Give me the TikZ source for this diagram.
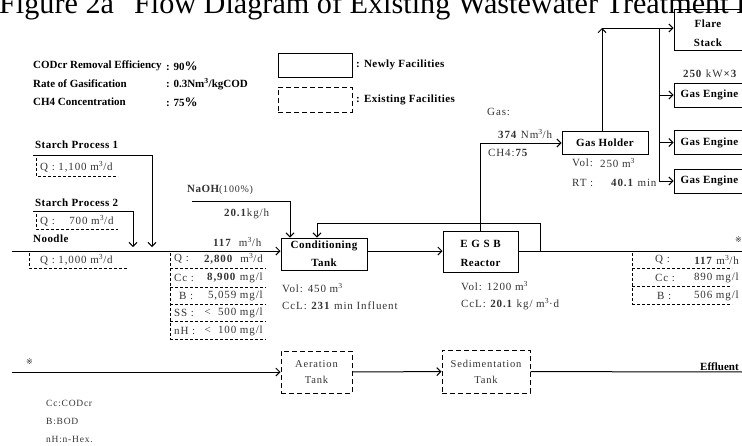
\documentclass[tikz,border=0pt]{standalone}
\usepackage{fontspec}
\setmainfont{Liberation Serif}
\newfontfamily\refmarkfont{DejaVu Sans}
\newfontfamily\widefont[LetterSpace=8]{Liberation Serif}
\newfontfamily\heavyfont[LetterSpace=4]{Liberation Serif}
\usetikzlibrary{arrows.meta}
\begin{document}
\begin{tikzpicture}[x=1pt,y=-1pt,
  lbl/.style={font=\fontsize{11}{12}\selectfont\bfseries, anchor=west, inner sep=0pt},
  hlbl/.style={font=\heavyfont\fontsize{11}{12}\selectfont\bfseries, anchor=west, inner sep=0pt},
  txt/.style={font=\widefont\fontsize{11}{12}\selectfont, anchor=west, inner sep=0pt, text=black!80},
  newbox/.style={draw, line width=1pt, inner sep=0pt, align=center, font=\heavyfont\fontsize{11}{18}\selectfont\bfseries},
  boxtext/.style={inner sep=0pt, align=center, font=\heavyfont\fontsize{11}{19}\selectfont\bfseries},
  oldbox/.style={draw, line width=1pt, dashed, dash pattern=on 5pt off 3pt, inner sep=0pt, align=center, font=\widefont\fontsize{10.5}{16}\selectfont, text=black!80},
  flow/.style={line width=1pt, -{Straight Barb[length=4pt,width=8pt,line width=1pt]}},
  ln/.style={line width=1pt},
  dsh/.style={line width=0.7pt, dash pattern=on 3pt off 2pt},
]
\clip (0,0) rectangle (742,445);
% title
\node[anchor=base west, inner sep=0pt, font=\fontsize{30.2}{30}\selectfont] (title) at (-1,13) {Figure 2a\hspace{20pt}Flow Diagram of Existing Wastewater Treatment Plant};
% legend
\node[lbl] (l1) at (33,66) {CODcr Removal Efficiency};
\node[lbl] (l1v) at (166,66) {: 90{\fontsize{13}{13}\selectfont\%}};
\node[lbl] (l2) at (33,84) {Rate of Gasification};
\node[lbl] (l2v) at (166,84) {: 0.3Nm\textsuperscript{3}/kgCOD};
\node[lbl] (l3) at (33,102) {CH4 Concentration};
\node[lbl] (l3v) at (166,102) {: 75{\fontsize{13}{13}\selectfont\%}};
\node[newbox, minimum width=74pt, minimum height=24pt] (legnew) at (315,65) {};
\node[hlbl] (legnewt) at (356,65) {: Newly Facilities};
\node[oldbox, minimum width=74pt, minimum height=25pt] (legold) at (315,99.5) {};
\node[hlbl] (legoldt) at (356,100) {: Existing Facilities};
% process boxes
\node[newbox, minimum width=86pt, minimum height=32pt] (cond) at (324,254) {Conditioning\\Tank};
\node[newbox, minimum width=75pt, minimum height=41pt] (egsb) at (480.5,251.5) {};
\node[boxtext] (egsbt) at (480.5,253) {E\,\,G\,\,S\,\,B\\Reactor};
\node[newbox, minimum width=86pt, minimum height=23pt] (gh) at (605,143) {Gas Holder};
\node[newbox, minimum width=71pt, minimum height=41pt] (flare) at (709.5,29.5) {};
\node[boxtext] (flaret) at (708,33) {Flare\\Stack};
\node[newbox, minimum width=71pt, minimum height=24pt] (ge1) at (709.5,95) {Gas Engine};
\node[newbox, minimum width=71pt, minimum height=24pt] (ge2) at (709.5,142.5) {Gas Engine};
\node[newbox, minimum width=71pt, minimum height=24pt] (ge3) at (709.5,181) {Gas Engine};
\node[oldbox, minimum width=71pt, minimum height=42pt] (aer) at (316.5,372) {Aeration\\Tank};
\node[oldbox, minimum width=88pt, minimum height=43pt] (sed) at (486,371.5) {Sedimentation\\Tank};
% coordinates
\coordinate (in0) at (12,251);
\coordinate (s1) at (33,155);
\coordinate (s1e) at (152,247);
\coordinate (s2) at (33,211);
\coordinate (s2e) at (133,247);
\coordinate (naoh) at (192,201);
\coordinate (rc) at (540,251);
\coordinate (out1) at (745,251);
\coordinate (top) at (602,28);
\coordinate (dtop) at (659,28);
\coordinate (b0) at (12,372);
\coordinate (out2) at (745,372);
% connectors
\draw[flow] (in0) -- (in0 -| cond.west);
\draw[flow] (s1) -| (s1e);
\draw[flow] (s2) -| (s2e);
\draw[flow] (naoh) -| ([xshift=-34pt]cond.north);
\draw[flow] (rc) -- (540,223) -| ([xshift=-7pt]cond.north);
\draw[flow] (cond.east |- in0) -- (egsb.west |- in0);
\draw[ln] (egsb.east |- in0) -- (out1);
\draw[flow] (egsb.north) |- (gh.west);
\draw[flow] ([xshift=-3pt]gh.north) -- (top);
\draw[flow] (top) -- (top -| flare.west);
\draw[flow] (dtop) |- (ge3.west);
\draw[flow] (ge1.west -| dtop) -- (ge1.west);
\draw[flow] (ge2.west -| dtop) -- (ge2.west);
\draw[flow] (b0) -- (aer);
\draw[flow] (aer) -- (sed);
\draw[ln] (sed) -- (out2);
% stream labels
\node[hlbl] (sp1) at (35,145) {Starch Process 1};
\node[hlbl] (sp2) at (35,203) {Starch Process 2};
\node[hlbl] (nod) at (33,239) {Noodle};
\draw[dsh] (36,158) -- (36,176) -- (118,176);
\node[txt] (q1) at (40,167) {Q : 1,100 m\textsuperscript{3}/d};
\draw[dsh] (36,214) -- (36,229) -- (118,229);
\node[txt] (q2) at (40,221) {Q :\ \ \ \ 700 m\textsuperscript{3}/d};
\draw[dsh] (29,253) -- (29,268) -- (127,268);
\node[txt] (q3) at (40,260) {Q : 1,000 m\textsuperscript{3}/d};
\node[txt] (naoht) at (187,190) {{\heavyfont\bfseries NaOH}{\fontsize{10}{12}\selectfont(100\%)}};
\node[txt] (naohq) at (224,214) {\textbf{20.1}kg/h};
\node[txt] (f117) at (213,242) {\textbf{117}\ \ m\textsuperscript{3}/h};
% influent table
\draw[dsh] (170,253) -- (170,339);
\foreach \yy in {268,287,304,321,339} \draw[dsh] (170,\yy) -- (266,\yy);
\node[txt] (tq) at (174,259) {Q :};
\node[txt, anchor=east] (tqv) at (263,259) {\textbf{2,800}\ \ m\textsuperscript{3}/d};
\node[txt] (tc) at (174,278) {Cc :};
\node[txt, anchor=east] (tcv) at (263,278) {\textbf{8,900} mg/l};
\node[txt] (tb) at (179,296) {B :};
\node[txt, anchor=east] (tbv) at (263,296) {5,059 mg/l};
\node[txt] (ts) at (174,313) {SS :};
\node[txt, anchor=east] (tsv) at (263,313) {<\ \ 500 mg/l};
\node[txt] (tn) at (174,331) {nH :};
\node[txt, anchor=east] (tnv) at (263,331) {<\ \ 100 mg/l};
% tank data
\node[txt] (cv) at (282,288) {Vol: 450 m\textsuperscript{3}};
\node[txt] (cc) at (282,306) {CcL: \textbf{231} min Influent};
\node[txt] (ev) at (461,286) {Vol: 1200 m\textsuperscript{3}};
\node[txt] (ec) at (461,304) {CcL: \textbf{20.1} kg/ m\textsuperscript{3}·d};
\node[txt] (gas) at (487,112) {Gas:};
\node[txt] (gasq) at (498,134) {\textbf{374} Nm\textsuperscript{3}/h};
\node[txt] (gasc) at (488,153) {CH4:\textbf{75}};
\node[txt] (ghv) at (572,163) {Vol:};
\node[txt] (ghv2) at (600,163) {250 m\textsuperscript{3}};
\node[txt] (ghr) at (572,183) {RT :};
\node[txt] (ghr2) at (611,183) {\textbf{40.1} min};
\node[txt] (kw) at (683,74) {\textbf{250} kW\textbf{×3}};
% effluent table
\node[txt, font=\refmarkfont\fontsize{8}{10}\selectfont] (rm1) at (735,240) {※};
\draw[dsh] (632,253) -- (632,305);
\foreach \yy in {268,286,304} \draw[dsh] (632,\yy) -- (732,\yy);
\node[txt] (eq) at (655,260) {Q :};
\node[txt, anchor=east] (eqv) at (739,260) {\textbf{117} m\textsuperscript{3}/h};
\node[txt] (ecc) at (655,278) {Cc :};
\node[txt, anchor=east] (eccv) at (739,278) {890 mg/l};
\node[txt] (eb) at (657,296) {B :};
\node[txt, anchor=east] (ebv) at (739,296) {506 mg/l};
% bottom
\node[txt, font=\refmarkfont\fontsize{8}{10}\selectfont] (rm2) at (26,362) {※};
\node[lbl] (eff) at (700,367) {Effluent};
\node[txt, font=\widefont\fontsize{9.5}{11}\selectfont] (n1) at (46,403) {Cc:CODcr};
\node[txt, font=\widefont\fontsize{9.5}{11}\selectfont] (n2) at (46,421) {B:BOD};
\node[txt, font=\widefont\fontsize{9.5}{11}\selectfont] (n3) at (46,439) {nH:n-Hex.};
\end{tikzpicture}
\end{document}
